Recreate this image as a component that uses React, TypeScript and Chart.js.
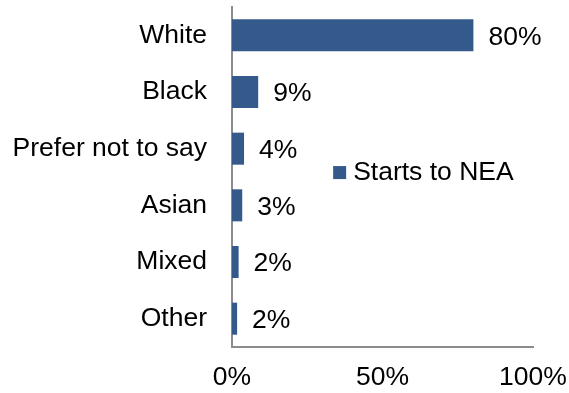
import React, { useEffect, useRef } from "react";
import { Chart, registerables } from "chart.js";

Chart.register(...registerables);

const categories = ["White", "Black", "Prefer not to say", "Asian", "Mixed", "Other"];
const startsToNEA = [80.2, 8.7, 4.0, 3.4, 2.2, 1.7];
const seriesLabel = "Starts to NEA";
const xMin = 0;
const xMax = 100;
const xStep = 50;

const FONT = "'Liberation Sans', Arial, sans-serif";
const FONT_SIZE = 26.5;
const BAR_COLOR = "#345A8C";
const AXIS_COLOR = "#8c8c8c";
const TEXT_COLOR = "#000000";

const valueLabelPlugin = {
  id: "valueLabels",
  afterDatasetsDraw(chart: any) {
    const ctx = chart.ctx;
    const meta = chart.getDatasetMeta(0);
    const data = chart.data.datasets[0].data as number[];
    ctx.save();
    ctx.font = `${FONT_SIZE}px ${FONT}`;
    ctx.fillStyle = TEXT_COLOR;
    ctx.textAlign = "left";
    ctx.textBaseline = "alphabetic";
    meta.data.forEach((el: any, i: number) => {
      const txt = Math.round(data[i]) + "%";
      ctx.fillText(txt, el.x + 15, el.y + FONT_SIZE * 0.358);
    });
    ctx.restore();
  },
};

const insideLegendPlugin = {
  id: "insideLegend",
  afterDraw(chart: any) {
    const { ctx, chartArea } = chart;
    const ds = chart.data.datasets[0];
    const w = chartArea.right - chartArea.left;
    const h = chartArea.bottom - chartArea.top;
    const x = chartArea.left + w * 0.336;
    const cy = chartArea.top + h * 0.487;
    const box = 13;
    ctx.save();
    ctx.fillStyle = ds.backgroundColor;
    ctx.fillRect(x, cy - box / 2, box, box);
    ctx.font = `${FONT_SIZE}px ${FONT}`;
    ctx.fillStyle = TEXT_COLOR;
    ctx.textAlign = "left";
    ctx.textBaseline = "alphabetic";
    ctx.fillText(ds.label, x + box + 7, cy + 7);
    ctx.restore();
  },
};

export default function App() {
  const ref = useRef<HTMLCanvasElement | null>(null);

  useEffect(() => {
    if (!ref.current) return;
    const chart = new Chart(ref.current, {
      type: "bar",
      data: {
        labels: categories,
        datasets: [
          {
            label: seriesLabel,
            data: startsToNEA,
            backgroundColor: BAR_COLOR,
            borderWidth: 0,
            categoryPercentage: 1,
            barPercentage: 0.565,
          },
        ],
      },
      options: {
        indexAxis: "y",
        animation: false,
        responsive: false,
        maintainAspectRatio: false,
        layout: { padding: { top: 7, right: 36, left: 0, bottom: 0 } },
        plugins: {
          legend: { display: false },
          tooltip: { enabled: false },
        },
        scales: {
          x: {
            min: xMin,
            max: xMax,
            grid: { display: false, drawTicks: false },
            border: { display: true, color: AXIS_COLOR, width: 2 },
            ticks: {
              stepSize: xStep,
              padding: 15,
              maxRotation: 0,
              color: TEXT_COLOR,
              font: { family: FONT, size: FONT_SIZE },
              callback: (v: any) => v + "%",
            },
            afterFit(scale: any) {
              scale.height = 46;
              scale.paddingLeft = 0;
              scale.paddingRight = 0;
            },
          },
          y: {
            grid: { display: false, drawTicks: false },
            border: { display: true, color: AXIS_COLOR, width: 2 },
            ticks: {
              padding: 25,
              color: TEXT_COLOR,
              font: { family: FONT, size: FONT_SIZE },
            },
            afterFit(scale: any) {
              scale.width = 232;
              scale.paddingTop = 0;
              scale.paddingBottom = 0;
            },
          },
        },
      },
      plugins: [valueLabelPlugin, insideLegendPlugin],
    });
    return () => chart.destroy();
  }, []);

  return (
    <div style={{ position: "fixed", left: 0, top: 0, width: 569, height: 393, background: "#fff" }}>
      <canvas ref={ref} width={569} height={393} style={{ display: "block" }} />
    </div>
  );
}
